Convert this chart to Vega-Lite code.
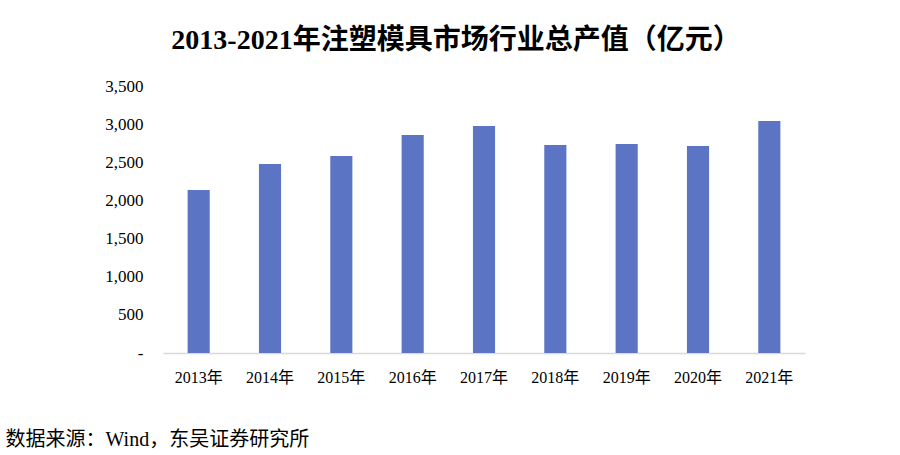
{
  "$schema": "https://vega.github.io/schema/vega-lite/v6.json",
  "autosize": {"type": "none"},
  "width": 642,
  "height": 267,
  "padding": {"left": 163, "top": 86, "right": 95, "bottom": 102},
  "background": "white",
  "config": {
    "view": {"stroke": null},
    "font": "Liberation Serif, Noto Sans CJK SC"
  },
  "title": {
    "text": "2013-2021年注塑模具市场行业总产值（亿元）",
    "anchor": "middle",
    "frame": "group",
    "dx": -28,
    "offset": 22,
    "fontSize": 28,
    "fontWeight": "bold",
    "color": "#000000",
    "font": "Liberation Serif, Noto Sans CJK SC"
  },
  "data": {
    "values": [
      {"year": "2013年", "value": 2136},
      {"year": "2014年", "value": 2477},
      {"year": "2015年", "value": 2582},
      {"year": "2016年", "value": 2857},
      {"year": "2017年", "value": 2975},
      {"year": "2018年", "value": 2726},
      {"year": "2019年", "value": 2739},
      {"year": "2020年", "value": 2713},
      {"year": "2021年", "value": 3040}
    ]
  },
  "mark": {"type": "bar", "color": "#5C74C4"},
  "encoding": {
    "x": {
      "field": "year",
      "type": "nominal",
      "sort": null,
      "scale": {"paddingInner": 0.69, "paddingOuter": 0.345},
      "axis": {
        "title": "数据来源：Wind，东吴证券研究所",
        "titleAnchor": "start",
        "titleAlign": "left",
        "titleBaseline": "alphabetic",
        "titleX": -158,
        "titleY": 92,
        "titleFontSize": 20,
        "titleFontWeight": "normal",
        "titleColor": "#000000",
        "labelAngle": 0,
        "labelFontSize": 16,
        "labelColor": "#000000",
        "labelPadding": 16,
        "ticks": false,
        "domainColor": "#D9D9D9",
        "domainWidth": 1.5
      }
    },
    "y": {
      "field": "value",
      "type": "quantitative",
      "scale": {"domain": [0, 3500], "nice": false},
      "axis": {
        "title": null,
        "values": [0, 500, 1000, 1500, 2000, 2500, 3000, 3500],
        "labelExpr": "datum.value == 0 ? '-' : format(datum.value, ',')",
        "labelFontSize": 17,
        "labelColor": "#000000",
        "labelPadding": 20,
        "ticks": false,
        "domain": false,
        "grid": false
      }
    }
  }
}
